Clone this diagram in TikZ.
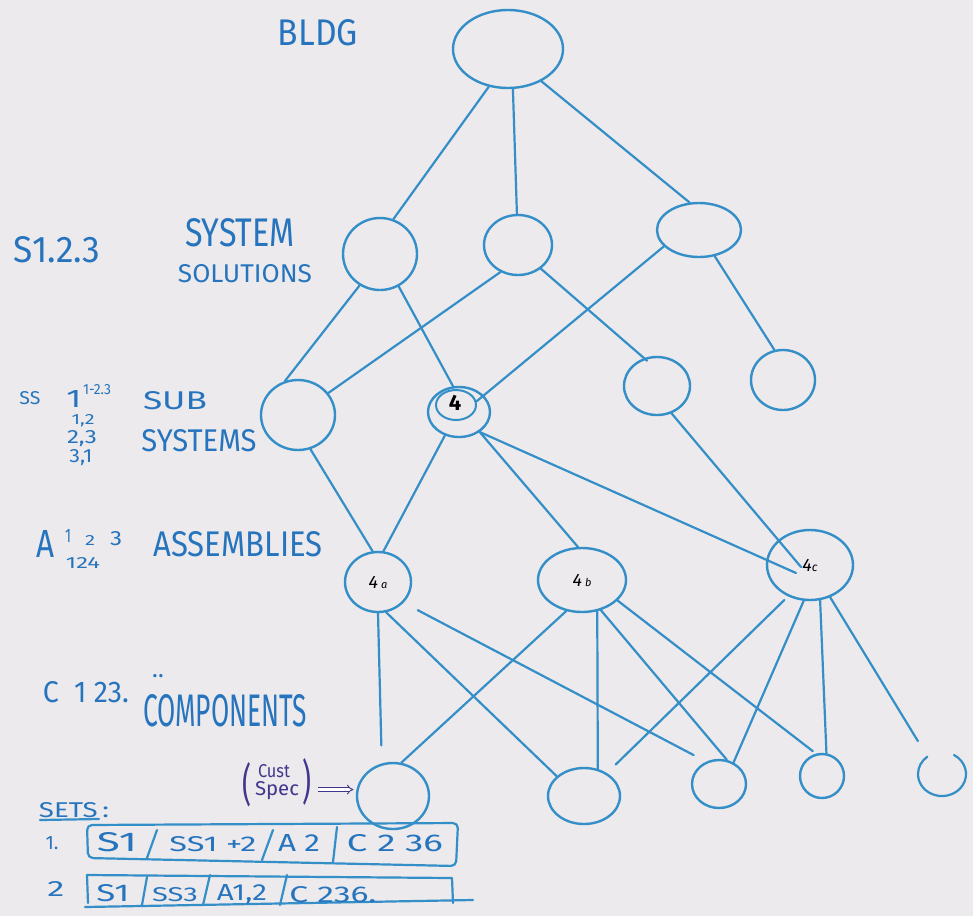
\documentclass[tikz,border=0pt]{standalone}
\usepackage{fontspec}
\setmainfont{Fira Sans}
\usepackage{graphicx}
\usetikzlibrary{shapes.geometric,arrows.meta,calc}
\definecolor{marker}{RGB}{52,142,200}
\definecolor{ink}{RGB}{38,116,190}
\definecolor{purp}{RGB}{64,54,140}
\definecolor{paper}{RGB}{236,234,236}
\newcommand{\hw}[3]{\resizebox{#1pt}{#2pt}{#3}}
\begin{document}
\begin{tikzpicture}[x=1pt,y=-1pt,
  oval/.style={ellipse, draw=marker, line width=2.4pt, inner sep=0pt},
  ghost/.style={ellipse, inner sep=0pt},
  link/.style={draw=marker, line width=2.2pt, line cap=round},
  boxline/.style={draw=marker, line width=2.2pt, line cap=round, line join=round},
  lbl/.style={text=ink, inner sep=0pt},
  plbl/.style={text=purp, inner sep=0pt},
  tag/.style={text=black, font=\fontsize{18}{18}\selectfont\itshape}
]
\fill[paper] (0,0) rectangle (973,916);
\useasboundingbox (0,0) rectangle (973,916);

% ---------- nodes ----------
\node[oval, minimum width=110, minimum height=78] (bldg) at (508,49) {};
\node[oval, minimum width=74, minimum height=72] (s1) at (380,254) {};
\node[oval, minimum width=68, minimum height=60] (s2) at (518,245) {};
\node[oval, minimum width=84, minimum height=54] (s3) at (699,230) {};
\node[oval, minimum width=74, minimum height=70] (ss1) at (298,415) {};
\node[oval, minimum width=62, minimum height=50] (ss2) at (459,412) {};
\node[oval, minimum width=40, minimum height=30, line width=2pt] (ss2i) at (456,405) {};
\node[text=black, font=\fontsize{22}{22}\selectfont\bfseries] (four) at (455,403) {4};
\node[oval, minimum width=66, minimum height=58] (ss3) at (657,386) {};
\node[oval, minimum width=64, minimum height=60] (ss4) at (783,380) {};
\node[oval, minimum width=66, minimum height=60, tag] (a4a) at (378,582) {4\,{\fontsize{11}{11}\selectfont a}};
\node[oval, minimum width=88, minimum height=64, tag] (a4b) at (582,580) {4\,{\fontsize{11}{11}\selectfont b}};
\node[oval, minimum width=86, minimum height=70, tag] (a4c) at (810,565) {4{\fontsize{12}{12}\selectfont c}};
\node[oval, minimum width=72, minimum height=66] (c1) at (393,796) {};
\node[oval, minimum width=72, minimum height=56] (c2) at (584,796) {};
\node[oval, minimum width=54, minimum height=48] (c3) at (719,784) {};
\node[oval, minimum width=44, minimum height=44] (c4) at (822,776) {};
\node[ghost, minimum width=48, minimum height=44] (c5) at (942,774) {};
\draw[link] (c5.center) ++(12,-19) arc[start angle=-60, end angle=232, x radius=24, y radius=22];

% ---------- connectors ----------
\draw[link] (bldg.243) -- (s1.69);
\draw[link] (bldg.277) -- (s2.92);
\draw[link] (bldg.316) -- (s3.109);

\draw[link] (s1.237) -- (ss1.111);
\draw[link] (s1.300) -- (ss2.103);
\draw[link] (s2.237) -- (ss1.36);
\draw[link, shorten >=-4pt] (s2.314) -- (ss3.115);
\draw[link] (s3.205) -- (ss2i.10);
\draw[link] (s3.301) -- (ss4.106);

\draw[link] (ss1.290) -- (a4a.100);
\draw[link] (ss2.239) -- (a4a.80);
\draw[link] (ss2.316) -- (a4b.97);
\draw[link] (ss2.316) -- ($(a4c.center)+(-14,8)$);
\draw[link] (ss3.298) -- ($(a4c.center)+(-9,2)$);

\draw[link, shorten >=18pt] (a4a.270) -- (c1.109);
\draw[link] (a4a.285) -- (c2.144);
\draw[link, shorten <=16pt, shorten >=14pt] (a4a.321) -- (c3.120);
\draw[link] (a4b.243) -- (c1.76);
\draw[link] (a4b.296) -- (c2.63);
\draw[link] (a4b.302) -- (c3.72);
\draw[link, shorten >=4pt] (a4b.330) -- (c4.105);
\draw[link, shorten <=5pt, shorten >=12pt] (a4c.235) -- (c2.45);
\draw[link] (a4c.260) -- (c3.56);
\draw[link] (a4c.286) -- (c4.79);
\draw[link, shorten >=18pt] (a4c.302) -- (c5.130);

% ---------- level labels ----------
\node[lbl] (bldgl) at (318,33) {\hw{80}{26}{BLDG}};
\node[lbl] (slab) at (57,250) {\hw{86}{26}{S1.2.3}};
\node[lbl] (sys) at (240,233) {\hw{110}{28}{SYSTEM}};
\node[lbl] (sol) at (245,274) {\hw{134}{18}{SOLUTIONS}};

\node[lbl] (ssl) at (30,398) {\hw{21}{13}{SS}};
\node[lbl] (ssone) at (74,399) {\hw{15}{17}{1}};
\node[lbl] (sssup) at (97,390) {\hw{28}{10}{1-2.3}};
\node[lbl, anchor=base] (ssab) at (83,424) {\hw{23}{10}{1,2}};
\node[lbl, anchor=base] (ssbc) at (82,443) {\hw{30}{13}{2,3}};
\node[lbl, anchor=base] (ssca) at (81,462) {\hw{23}{13}{3,1}};
\node[lbl] (sub) at (175,401) {\hw{64}{18}{SUB}};
\node[lbl] (subsys) at (199,441) {\hw{115}{22}{SYSTEMS}};

\node[lbl] (alab) at (46,544) {\hw{18}{27}{A}};
\node[lbl] (aone) at (68,536) {\hw{6}{13}{1}};
\node[lbl] (atwo) at (90,540) {\hw{10}{10}{2}};
\node[lbl] (athree) at (116,539) {\hw{12}{14}{3}};
\node[lbl] (aot) at (83,563) {\hw{34}{11}{124}};
\node[lbl] (asm) at (238,544) {\hw{169}{25}{ASSEMBLIES}};

\node[lbl] (clab) at (86,692) {\hw{86}{21}{C\ \ 1\ 23.}};
\node[lbl, font=\fontsize{24}{24}\selectfont] (cdots) at (158,676) {..};
\node[lbl] (comp) at (225,711) {\hw{164}{32}{COMPONENTS}};

% ---------- customer spec ----------
\node[plbl] (lpar) at (247,785) {\hw{9}{38}{(}};
\node[plbl, anchor=base] (cust) at (274,777) {\hw{32}{13}{Cust}};
\node[plbl, anchor=base] (spec) at (277,795) {\hw{44}{14}{Spec}};
\node[plbl] (rpar) at (307,782) {\hw{9}{40}{)}};
\draw[purp, double, double distance=2.4pt, line width=0.9pt, -{Implies}, shorten <=6pt, shorten >=3pt]
  (rpar.east |- c1.170) -- (c1.170);

% ---------- sets ----------
\node[lbl] (sets) at (74,810) {\hw{70}{15}{SETS\,:}};
\draw[boxline] (40,820) -- (99,819);

\node[lbl] (rone) at (52,843) {\hw{13}{13}{1.}};
\draw[boxline, rounded corners=5pt] (87,825) -- (458,823) -- (456,866) -- (88,858) -- cycle;
\draw[boxline] (157,830) -- (147,858);
\draw[boxline] (273,830) -- (262,860);
\draw[boxline] (337,827) -- (333,862);
\node[lbl] (ra1) at (117,842) {\hw{40}{19}{S1}};
\node[lbl] (ra2) at (213,844) {\hw{87}{15}{SS1 +2}};
\node[lbl] (ra3) at (299,843) {\hw{42}{17}{A 2}};
\node[lbl] (ra4) at (395,843) {\hw{96}{17}{C 2 36}};

\node[lbl] (rtwo) at (56,889) {\hw{17}{15}{2}};
\draw[boxline] (88,903) -- (87,875) -- (452,878) -- (453,903);
\draw[boxline] (85,907) -- (473,900);
\draw[boxline] (147,877) -- (142,905);
\draw[boxline] (210,875) -- (203,905);
\draw[boxline] (287,875) -- (280,905);
\node[lbl] (rb1) at (113,893) {\hw{33}{17}{S1}};
\node[lbl] (rb2) at (175,895) {\hw{46}{14}{SS3}};
\node[lbl] (rb3) at (242,894) {\hw{50}{16}{A1,2}};
\node[lbl] (rb4) at (333,895) {\hw{87}{16}{C 236.}};
\end{tikzpicture}
\end{document}
